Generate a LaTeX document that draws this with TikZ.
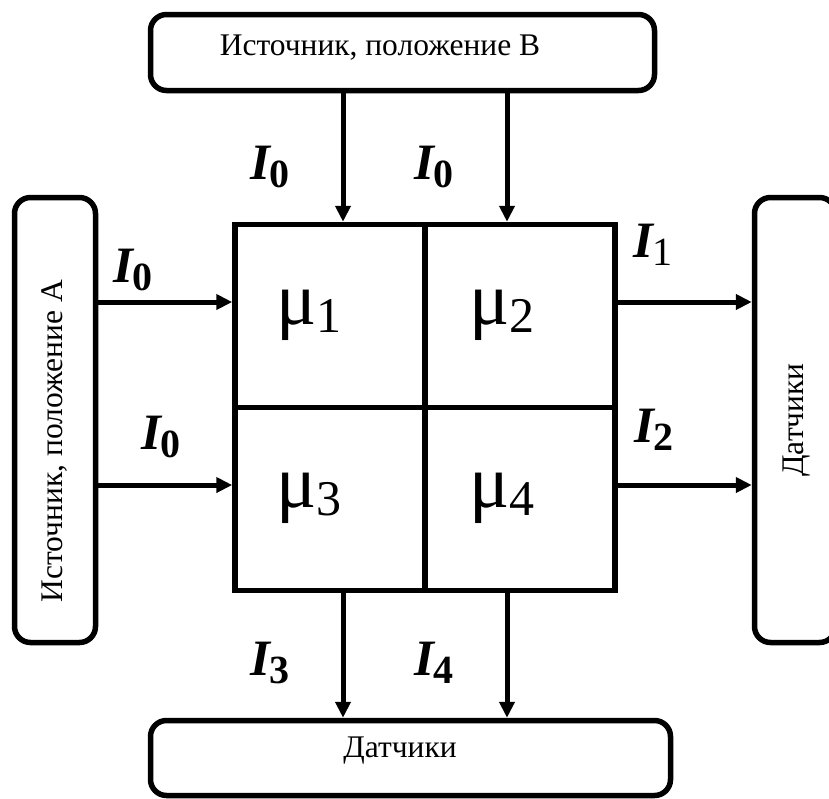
\documentclass[tikz,border=0pt]{standalone}
\usepackage{fontspec}
\setmainfont{Liberation Serif}
\usetikzlibrary{arrows.meta}

\tikzset{
  box/.style={draw, line width=5.5pt, rounded corners=16pt, inner sep=0pt},
  cell/.style={draw, line width=5.5pt, minimum width=190pt, minimum height=183pt, inner sep=0pt},
  flow/.style={line width=5pt, -{Triangle[length=16pt,width=15pt]}},
  boxtext/.style={inner sep=0pt, font=\fontsize{31.5}{36}\selectfont},
  lbl/.style={inner sep=0pt},
}
\newcommand{\Icur}[1]{{\fontsize{51}{51}\selectfont\bfseries\itshape I}\raisebox{-8pt}{\fontsize{40}{40}\selectfont #1}}
\newcommand{\mucell}[1]{{\fontsize{75}{75}\selectfont μ}\raisebox{-8pt}{\fontsize{50}{50}\selectfont #1}}

\begin{document}
\begin{tikzpicture}[x=1pt, y=-1pt]
  \useasboundingbox (0,0) rectangle (829,798);

  % Boxes
  \node[box, minimum width=504pt, minimum height=76pt] (srcB) at (402.5,52.5) {};
  \node[box, minimum width=520pt, minimum height=75pt] (sensB) at (410.5,758) {};
  \node[box, minimum width=81pt, minimum height=445pt] (srcA) at (55,420) {};
  \node[box, minimum width=81pt, minimum height=445pt] (sensR) at (795,420) {};

  \node[boxtext, anchor=base] (srcBtext) at (380,55) {Источник, положение B};
  \node[boxtext, anchor=base] (sensBtext) at (400,757) {Датчики};
  \node[boxtext, anchor=base, rotate=90] (srcAtext) at (62,441) {Источник, положение А};
  \node[boxtext, anchor=base, rotate=90] (sensRtext) at (803,420) {Датчики};

  % Sample cells
  \node[cell] (c1) at (330,316) {};
  \node[cell] (c2) at (520,316) {};
  \node[cell] (c3) at (330,499) {};
  \node[cell] (c4) at (520,499) {};

  \node[lbl] (m1) at (309,315) {\mucell{1}};
  \node[lbl] (m2) at (502,315) {\mucell{2}};
  \node[lbl] (m3) at (309,498) {\mucell{3}};
  \node[lbl] (m4) at (502,498) {\mucell{4}};

  % Beam entry and exit points
  \coordinate (b1) at ([xshift=13pt]c1.north);
  \coordinate (b2) at ([xshift=-13pt]c2.north);
  \coordinate (d1) at ([xshift=13pt]c3.south);
  \coordinate (d2) at ([xshift=-13pt]c4.south);
  \coordinate (a1) at ([yshift=14pt]c1.west);
  \coordinate (a2) at ([yshift=14pt]c3.west);
  \coordinate (r1) at ([yshift=14pt]c2.east);
  \coordinate (r2) at ([yshift=14pt]c4.east);

  % Edges
  \draw[flow] (b1 |- srcB.south) -- (b1);
  \draw[flow] (b2 |- srcB.south) -- (b2);
  \draw[flow] (a1 -| srcA.east) -- (a1);
  \draw[flow] (a2 -| srcA.east) -- (a2);
  \draw[flow] (r1) -- (r1 -| sensR.west);
  \draw[flow] (r2) -- (r2 -| sensR.west);
  \draw[flow] (d1) -- (d1 |- sensB.north);
  \draw[flow] (d2) -- (d2 |- sensB.north);

  % Intensities
  \node[lbl] (i0b1) at (270,167) {\Icur{\bfseries 0}};
  \node[lbl] (i0b2) at (434,167) {\Icur{\bfseries 0}};
  \node[lbl] (i0a1) at (133,270) {\Icur{\bfseries 0}};
  \node[lbl] (i0a2) at (161,437) {\Icur{\bfseries 0}};
  \node[lbl] (i1) at (653,245) {\Icur{1}};
  \node[lbl] (i2) at (654,430) {\Icur{\bfseries 2}};
  \node[lbl] (i3) at (270,663) {\Icur{\bfseries 3}};
  \node[lbl] (i4) at (434,663) {\Icur{\bfseries 4}};
\end{tikzpicture}
\end{document}
